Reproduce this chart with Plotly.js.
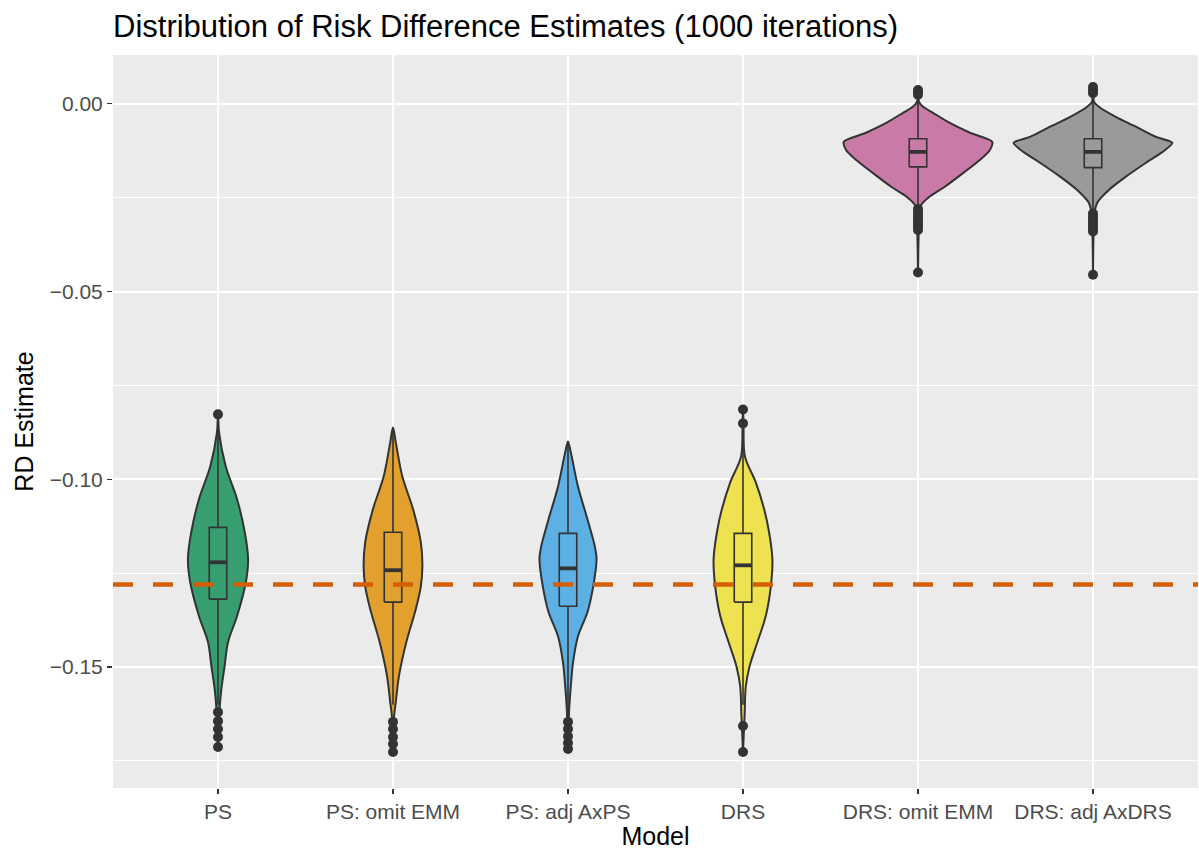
<!DOCTYPE html>
<html>
<head>
<meta charset="utf-8">
<script src="https://cdn.plot.ly/plotly-3.0.1.min.js"></script>
<style>html,body{margin:0;padding:0;background:#fff;}#chart{width:1199px;height:850px;}</style>
</head>
<body>
<div id="chart"></div>
<script>
// ---- data ----
const models = ["PS", "PS: omit EMM", "PS: adj AxPS", "DRS", "DRS: omit EMM", "DRS: adj AxDRS"];
const fillColors = ["rgb(55,158,112)", "rgb(226,160,45)", "rgb(92,176,228)", "rgb(238,226,80)", "rgb(202,122,166)", "rgb(154,154,154)"];
const trueRD = -0.128;

// violin outlines: y levels and half-widths (category units)
const violinY_PS = [-0.0827, -0.0875, -0.0965, -0.1053, -0.1141, -0.1213, -0.1274, -0.1364, -0.1434, -0.1497, -0.1559, -0.1612, -0.1713];
const violinW_PS = [0.000, 0.006, 0.044, 0.109, 0.153, 0.172, 0.159, 0.109, 0.057, 0.038, 0.019, 0.009, 0.000];
const violinY_PSomit = [-0.0862, -0.0902, -0.0992, -0.1080, -0.1168, -0.1231, -0.1285, -0.1346, -0.1434, -0.1524, -0.1593, -0.1633, -0.1726];
const violinW_PSomit = [0.000, 0.016, 0.053, 0.115, 0.159, 0.168, 0.159, 0.130, 0.076, 0.034, 0.016, 0.006, 0.000];
const violinY_PSadj = [-0.0899, -0.0928, -0.1019, -0.1106, -0.1178, -0.1213, -0.1285, -0.1354, -0.1418, -0.1487, -0.1551, -0.1620, -0.1718];
const violinW_PSadj = [0.000, 0.016, 0.057, 0.111, 0.153, 0.163, 0.144, 0.111, 0.057, 0.029, 0.016, 0.006, 0.000];
const violinY_DRS = [-0.0814, -0.0851, -0.0939, -0.1008, -0.1080, -0.1141, -0.1213, -0.1285, -0.1364, -0.1434, -0.1497, -0.1551, -0.1630, -0.1726];
const violinW_DRS = [0.000, 0.003, 0.011, 0.073, 0.121, 0.149, 0.168, 0.159, 0.130, 0.082, 0.038, 0.016, 0.009, 0.000];
const violinY_DRSomit = [0.0037, 0.0005, -0.0008, -0.0024, -0.0051, -0.0077, -0.0101, -0.0122, -0.0149, -0.0184, -0.0221, -0.0247, -0.0269, -0.0290, -0.0449];
const violinW_DRSomit = [0.000, 0.006, 0.029, 0.086, 0.182, 0.297, 0.424, 0.412, 0.355, 0.259, 0.153, 0.067, 0.019, 0.009, 0.000];
const violinY_DRSadj = [0.0045, 0.0005, -0.0008, -0.0035, -0.0061, -0.0088, -0.0104, -0.0128, -0.0157, -0.0194, -0.0229, -0.0263, -0.0290, -0.0455];
const violinW_DRSadj = [0.000, 0.006, 0.034, 0.130, 0.245, 0.360, 0.454, 0.398, 0.303, 0.188, 0.092, 0.025, 0.009, 0.000];

// boxplot statistics
const q1 = [-0.1319, -0.1327, -0.1338, -0.1327, -0.0168, -0.0170];
const medians = [-0.1221, -0.1242, -0.1237, -0.1229, -0.0128, -0.0128];
const q3 = [-0.1128, -0.1141, -0.1144, -0.1144, -0.0093, -0.0093];
const lowerWhisker = [-0.1600, -0.1600, -0.1620, -0.1600, -0.0272, -0.0283];
const upperWhisker = [-0.0875, -0.0865, -0.0899, -0.0920, 0.0015, 0.0019];

// outliers
const outliers_PS = [-0.0827, -0.1620, -0.1644, -0.1665, -0.1686, -0.1713];
const outliers_PSomit = [-0.1646, -0.1665, -0.1686, -0.1705, -0.1726];
const outliers_PSadj = [-0.1646, -0.1665, -0.1684, -0.1702, -0.1718];
const outliers_DRS = [-0.0814, -0.0851, -0.1657, -0.1726];
const outliers_DRSomit = [0.0037, 0.0030, 0.0024, -0.0280, -0.0288, -0.0296, -0.0304, -0.0312, -0.0320, -0.0328, -0.0336, -0.0449];
const outliers_DRSadj = [0.0045, 0.0036, 0.0028, -0.0292, -0.0300, -0.0308, -0.0316, -0.0324, -0.0332, -0.0340, -0.0455];

// ---- build traces ----
const violinY = [violinY_PS, violinY_PSomit, violinY_PSadj, violinY_DRS, violinY_DRSomit, violinY_DRSadj];
const violinW = [violinW_PS, violinW_PSomit, violinW_PSadj, violinW_DRS, violinW_DRSomit, violinW_DRSadj];
const outliers = [outliers_PS, outliers_PSomit, outliers_PSadj, outliers_DRS, outliers_DRSomit, outliers_DRSadj];
const pos = models.map((m, i) => i + 1);
const dark = "#333333";
const boxHalf = 0.05;
const traces = [];

models.forEach((m, i) => {
  const ys = violinY[i], ws = violinW[i], c = pos[i];
  const x = [], y = [];
  for (let k = 0; k < ys.length; k++) { x.push(c + ws[k]); y.push(ys[k]); }
  for (let k = ys.length - 1; k >= 0; k--) { x.push(c - ws[k]); y.push(ys[k]); }
  traces.push({
    type: "scatter", mode: "lines", x: x, y: y, fill: "toself",
    fillcolor: fillColors[i],
    line: {color: dark, width: 2, shape: "spline", smoothing: i >= 4 ? 0.7 : 0.9},
    hoverinfo: "skip", showlegend: false
  });
});

// boxes and whiskers (drawn as lines so they sit above the violins)
models.forEach((m, i) => {
  const c = pos[i];
  traces.push({
    type: "scatter", mode: "lines",
    x: [c, c, null, c, c, null, c - boxHalf, c + boxHalf, c + boxHalf, c - boxHalf, c - boxHalf],
    y: [lowerWhisker[i], q1[i], null, q3[i], upperWhisker[i], null, q1[i], q1[i], q3[i], q3[i], q1[i]],
    line: {color: dark, width: 1.6}, hoverinfo: "skip", showlegend: false
  });
  traces.push({
    type: "scatter", mode: "lines",
    x: [c - boxHalf, c + boxHalf], y: [medians[i], medians[i]],
    line: {color: dark, width: 3.8}, hoverinfo: "skip", showlegend: false
  });
});

const ox = [], oy = [];
outliers.forEach((arr, i) => arr.forEach(v => { ox.push(pos[i]); oy.push(v); }));
traces.push({
  type: "scatter", mode: "markers", x: ox, y: oy,
  marker: {color: dark, size: 10}, hoverinfo: "skip", showlegend: false
});

const font = "Liberation Sans, Arial, Helvetica, sans-serif";
const layout = {
  width: 1199, height: 850,
  margin: {l: 113, r: 1, t: 55, b: 62},
  paper_bgcolor: "#ffffff", plot_bgcolor: "#EBEBEB",
  font: {family: font, color: "#000"},
  showlegend: false,
  title: {
    text: "Distribution of Risk Difference Estimates (1000 iterations)",
    xref: "paper", x: 0, xanchor: "left",
    yref: "container", y: 1 - 26 / 850, yanchor: "middle",
    font: {family: font, size: 31, color: "#000"}
  },
  xaxis: {
    range: [0.4, 6.6], tickvals: pos, ticktext: models,
    showgrid: true, gridcolor: "#ffffff", gridwidth: 2, zeroline: false,
    ticks: "outside", ticklen: 5, tickwidth: 1.2, tickcolor: dark,
    tickfont: {family: font, size: 21, color: "#4D4D4D"},
    showline: false,
    title: {text: "Model", font: {family: font, size: 25, color: "#000"}, standoff: 4}
  },
  yaxis: {
    range: [-0.1822, 0.0130], tickvals: [0, -0.05, -0.1, -0.15], tickformat: ".2f",
    showgrid: true, gridcolor: "#ffffff", gridwidth: 2, zeroline: false,
    minor: {tickvals: [0.025, -0.025, -0.075, -0.125, -0.175], showgrid: true, gridcolor: "#ffffff", gridwidth: 1, ticks: ""},
    ticks: "outside", ticklen: 5, tickwidth: 1.2, tickcolor: dark,
    tickfont: {family: font, size: 21, color: "#4D4D4D"},
    showline: false,
    title: {text: "RD Estimate", font: {family: font, size: 25, color: "#000"}, standoff: 8}
  },
  shapes: [{
    type: "line", xref: "paper", x0: 0, x1: 1, yref: "y", y0: trueRD, y1: trueRD,
    line: {color: "#D55E00", width: 4.5, dash: "20px,20px"}, layer: "above"
  }]
};

Plotly.newPlot("chart", traces, layout, {displayModeBar: false, staticPlot: true});
</script>
</body>
</html>
